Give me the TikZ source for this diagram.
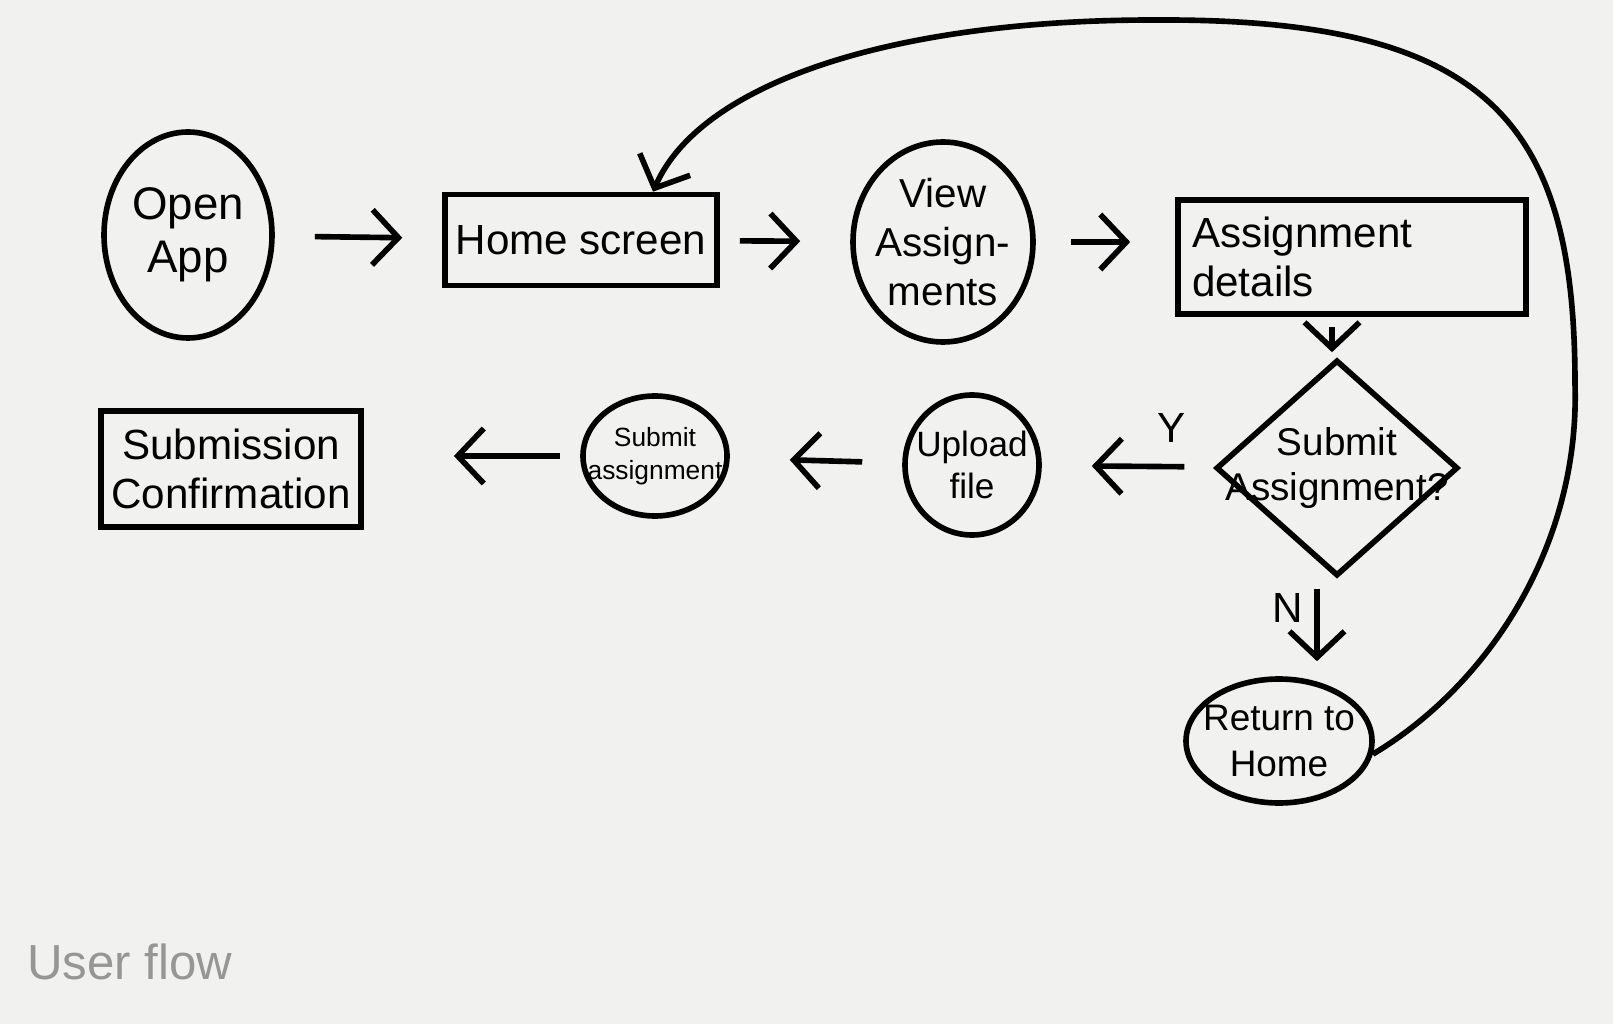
\documentclass[tikz,border=0pt]{standalone}
\usepackage{fontspec}
\setmainfont{Liberation Sans}
\usetikzlibrary{shapes.geometric, arrows.meta}

\definecolor{paper}{RGB}{241,241,240}
\definecolor{pencil}{RGB}{150,150,150}

\begin{document}
\begin{tikzpicture}[
    every node/.style={font=\fontsize{12}{14}\selectfont, align=center},
    stepcircle/.style={ellipse, draw=black, line width=1.6pt, inner sep=-2pt},
    screenbox/.style={rectangle, draw=black, line width=1.6pt, inner sep=3pt},
    choice/.style={diamond, draw=black, line width=1.6pt, inner sep=0pt},
    flow/.style={-{Straight Barb[length=2.6mm,width=5.5mm]}, line width=1.6pt}
  ]
  \fill[paper] (0,0) rectangle (16.13,10.24);

  % top row
  \node[stepcircle, minimum width=1.68cm, minimum height=2.06cm,
    font=\fontsize{13}{15}\selectfont] (open) at (1.88,7.89) {Open\\App};
  \node[screenbox, minimum width=2.37cm, minimum height=0.91cm] (home) at (5.81,7.84) {Home screen};
  \node[stepcircle, minimum width=1.80cm, minimum height=2.00cm,
    font=\fontsize{11.5}{14}\selectfont] (view) at (9.43,7.82) {View\\Assign-\\ments};
  \node[screenbox, minimum width=3.48cm, minimum height=1.14cm, text width=3.2cm,
    align=left] (details) at (13.52,7.67) {Assignment\\details};

  % decision and return
  \node[choice, minimum width=2.42cm, minimum height=2.16cm,
    label={[align=center, font=\fontsize{11}{13}\selectfont]center:Submit\\Assignment?}] (decide) at (13.37,5.56) {};
  \node[stepcircle, minimum width=1.86cm, minimum height=1.24cm, inner sep=-6pt,
    font=\fontsize{10.5}{13}\selectfont] (back) at (12.79,2.83) {Return to\\Home};

  % bottom row
  \node[stepcircle, minimum width=1.34cm, minimum height=1.40cm, inner sep=-4pt,
    font=\fontsize{10}{12}\selectfont] (upload) at (9.72,5.59) {Upload\\file};
  \node[stepcircle, minimum width=1.44cm, minimum height=1.20cm, inner sep=-6pt,
    font=\fontsize{7.5}{9.5}\selectfont] (submit) at (6.55,5.68) {Submit\\assignment};
  \node[screenbox, minimum width=2.57cm, minimum height=1.16cm] (confirm) at (2.31,5.55) {Submission\\Confirmation};

  \node[text=pencil, font=\fontsize{14}{16}\selectfont] (title) at (1.30,0.62) {User flow};

  % connectors
  \draw[flow, shorten <=4mm, shorten >=4mm] (open) -- (home);
  \draw[flow, shorten <=2mm, shorten >=5mm] (home) -- (view);
  \draw[flow, shorten <=3.5mm, shorten >=4.5mm] (view.east) -- (view.east -| details.west);
  \draw[flow, shorten <=1mm, shorten >=0.5mm] ([xshift=-2mm]details.south) -- ([xshift=-2mm]details.south |- decide.north);
  \draw[flow, shorten <=3mm, shorten >=5mm] (decide) -- node[above, pos=0.25, yshift=1mm] {Y} (upload);
  \draw[flow, shorten <=4mm, shorten >=6mm] (upload) -- (submit);
  \draw[flow, shorten <=2mm, shorten >=9mm] (submit.west) -- (submit.west -| confirm.east);
  \draw[flow, shorten <=1mm, shorten >=1.5mm] ([xshift=-2mm]decide.south) -- node[left, pos=0.3] {N} ([xshift=-2mm]decide.south |- back.north);
  \draw[flow] (back.-8) .. controls (14.9,3.4) and (15.8,4.8) .. (15.75,6.4)
    .. controls (15.75,9.0) and (14.9,10.05) .. (11.6,10.04)
    .. controls (8.9,10.05) and (7.0,9.4) .. ([xshift=7.2mm]home.north);
\end{tikzpicture}
\end{document}
